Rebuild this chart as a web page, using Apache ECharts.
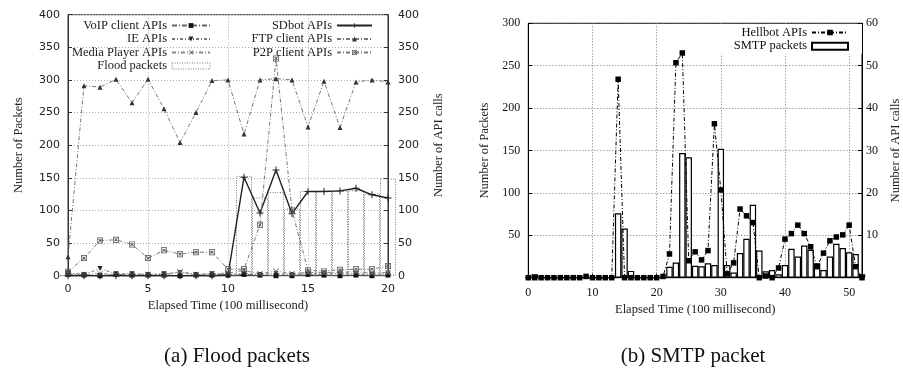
<!DOCTYPE html>
<html>
<head>
<meta charset="utf-8">
<script src="https://cdn.jsdelivr.net/npm/echarts@6/dist/echarts.min.js"></script>
<style>
html, body { margin: 0; padding: 0; background: #fff; }
#main { width: 903px; height: 374px; }
</style>
</head>
<body>
<div id="main"></div>
<script>
// (a) Flood packets : elapsed time 0..20 (100 ms)
const timeA = [0, 1, 2, 3, 4, 5, 6, 7, 8, 9, 10, 11, 12, 13, 14, 15, 16, 17, 18, 19, 20]
const voipApis = [2, 1, 0, 2, 1, 1, 1, 0, 1, 1, 1, 2, 1, 0, 0, 2, 1, 0, 1, 0, 1]
const ieApis = [4, 2, 11, 3, 3, 2, 3, 5, 2, 3, 2, 3, 2, 3, 2, 3, 3, 3, 3, 2, 3]
const mediaApis = [3, 2, 3, 2, 2, 2, 2, 6, 2, 3, 4, 8, 3, 7, 3, 5, 5, 5, 6, 4, 5]
const floodPackets = [0, 0, 0, 0, 0, 0, 0, 0, 0, 0, 0, 153, 120, 128, 103, 130, 130, 130, 131, 126, 149]
const sdbotApis = [0, 0, 0, 0, 0, 0, 0, 0, 0, 0, 1, 151, 96, 162, 95, 129, 129, 130, 134, 124, 119]
const ftpApis = [29, 291, 289, 301, 265, 301, 256, 204, 250, 299, 300, 217, 300, 302, 300, 228, 298, 227, 297, 300, 297]
const p2pApis = [6, 27, 54, 55, 48, 27, 39, 33, 36, 36, 10, 10, 78, 333, 100, 8, 7, 9, 10, 10, 15]

// (b) SMTP packet : elapsed time 0..52 (100 ms)
const timeB = [0, 1, 2, 3, 4, 5, 6, 7, 8, 9, 10, 11, 12, 13, 14, 15, 16, 17, 18, 19,
    20, 21, 22, 23, 24, 25, 26, 27, 28, 29, 30, 31, 32, 33, 34, 35, 36, 37, 38, 39,
    40, 41, 42, 43, 44, 45, 46, 47, 48, 49, 50, 51, 52]
const hellbotApis = [0, 0, 0, 0, 0, 0, 0, 0, 0, 0.3, 0, 0, 0, 0, 46.8, 0, 0, 0, 0, 0,
    0, 0.3, 5.6, 50.7, 53, 4, 6.1, 4.2, 6.4, 36.3, 20.7, 0.9, 3.5, 16.2, 14.6, 13, 0, 0.4, 0, 2.3,
    9.1, 10.4, 12.4, 10.4, 7.3, 2.6, 5.8, 8.7, 9.6, 10.1, 12.4, 2.6, 0]
const smtpPackets = [0, 4, 0, 0, 0, 0, 0, 0, 0, 0, 0, 0, 0, 0, 76, 58, 8, 0, 0, 0,
    0, 1, 13, 18, 147, 142, 14, 13.5, 17, 15, 152, 15, 6, 29, 46, 86, 32, 7.5, 9, 4,
    15, 34, 25, 38, 33, 17, 9, 25, 40, 35, 30, 28, 4]

function zip(xs, ys) {
    return xs.map(function (x, i) { return [x, ys[i]] })
}

// marker shapes
const crossPath = 'path://M0,1L1,0L5,4L9,0L10,1L6,5L10,9L9,10L5,6L1,10L0,9L4,5Z'
const plusPath = 'path://M4.3,0H5.7V4.3H10V5.7H5.7V10H4.3V5.7H0V4.3H4.3Z'
const boxCrossPath = 'path://M0,0H10V10H0Z M1.2,1.2V8.8H8.8V1.2Z M2,3L3,2L5,4L7,2L8,3L6,5L8,7L7,8L5,6L3,8L2,7L4,5Z'

const sansTick = { fontFamily: 'DejaVu Sans', fontSize: 11, color: '#222' }
const serifTick = { fontFamily: 'Liberation Serif', fontSize: 12, color: '#111' }
const serifName = { fontFamily: 'Liberation Serif', fontSize: 12.5, color: '#222' }
const dotGrid = { lineStyle: { color: '#aaa', type: [1, 2], width: 1 } }
const floodStyle = { color: 'transparent', borderColor: '#777', borderWidth: 1, borderType: [1, 1.5] }

let myChart = echarts.init(document.getElementById('main'), null, { renderer: 'canvas' })
myChart.setOption({
    backgroundColor: '#fff',
    animation: false,
    grid: [
        { left: 68, top: 14.7, width: 320, height: 261, show: true, borderColor: '#333', borderWidth: 1, backgroundColor: 'transparent' },
        { left: 528.3, top: 23.3, width: 335, height: 254.4, show: true, borderColor: '#000', borderWidth: 1, backgroundColor: 'transparent' }
    ],
    xAxis: [
        {
            gridIndex: 0, type: 'value', min: 0, max: 20, interval: 5,
            name: 'Elapsed Time (100 millisecond)', nameLocation: 'middle', nameGap: 24, nameTextStyle: serifName,
            axisLine: { show: true, lineStyle: { color: '#333' } },
            axisTick: { inside: true, length: 4, lineStyle: { color: '#333' } },
            axisLabel: Object.assign({ margin: 8 }, sansTick),
            splitLine: dotGrid
        },
        {
            gridIndex: 1, type: 'value', min: 0, max: 52, interval: 10,
            name: 'Elapsed Time (100 millisecond)', nameLocation: 'middle', nameGap: 25, nameTextStyle: serifName,
            axisLine: { show: true, lineStyle: { color: '#000' } },
            axisTick: { inside: true, length: 4, lineStyle: { color: '#000' } },
            axisLabel: Object.assign({ margin: 9, showMaxLabel: false }, serifTick),
            splitLine: { lineStyle: { color: '#777', type: [1, 2], width: 1 } }
        }
    ],
    yAxis: [
        {
            gridIndex: 0, type: 'value', min: 0, max: 400, interval: 50, position: 'left',
            name: 'Number of Packets', nameLocation: 'middle', nameGap: 43, nameRotate: 90, nameTextStyle: serifName,
            axisLine: { show: true, lineStyle: { color: '#333' } },
            axisTick: { show: true, inside: true, length: 4, lineStyle: { color: '#333' } },
            axisLabel: Object.assign({ margin: 8 }, sansTick),
            splitLine: dotGrid
        },
        {
            gridIndex: 0, type: 'value', min: 0, max: 400, interval: 50, position: 'right',
            name: 'Number of API calls', nameLocation: 'middle', nameGap: 44, nameRotate: 90, nameTextStyle: serifName,
            axisLine: { show: true, lineStyle: { color: '#333' } },
            axisTick: { show: true, inside: true, length: 4, lineStyle: { color: '#333' } },
            axisLabel: Object.assign({ margin: 10 }, sansTick),
            splitLine: { show: false }
        },
        {
            gridIndex: 1, type: 'value', min: 0, max: 300, interval: 50, position: 'left',
            name: 'Number of Packets', nameLocation: 'middle', nameGap: 37, nameRotate: 90, nameTextStyle: serifName,
            axisLine: { show: true, lineStyle: { color: '#000' } },
            axisTick: { show: true, inside: true, length: 4, lineStyle: { color: '#000' } },
            axisLabel: Object.assign({ margin: 8, showMinLabel: false }, serifTick),
            splitLine: { lineStyle: { color: '#777', type: [1, 2], width: 1 } }
        },
        {
            gridIndex: 1, type: 'value', min: 0, max: 60, interval: 10, position: 'right',
            name: 'Number of API calls', nameLocation: 'middle', nameGap: 27, nameRotate: 90, nameTextStyle: serifName,
            axisLine: { show: true, lineStyle: { color: '#000' } },
            axisTick: { show: true, inside: true, length: 4, lineStyle: { color: '#000' } },
            axisLabel: Object.assign({ margin: 4, showMinLabel: false }, serifTick),
            splitLine: { show: false }
        }
    ],
    legend: [
        {
            data: ['VoIP client APIs', 'IE APIs', 'Media Player APIs', { name: 'Flood packets', icon: 'rect', itemStyle: floodStyle }],
            orient: 'vertical', align: 'right', right: 692, top: 19, padding: 0,
            itemWidth: 38, itemHeight: 6, itemGap: 0.5, selectedMode: false,
            textStyle: { fontFamily: 'Liberation Serif', fontSize: 12.5, color: '#222', lineHeight: 12 }
        },
        {
            data: ['SDbot APIs', 'FTP client APIs', 'P2P client APIs'],
            orient: 'vertical', align: 'right', right: 530, top: 19, padding: 0,
            itemWidth: 35, itemHeight: 6, itemGap: 0.5, selectedMode: false,
            textStyle: { fontFamily: 'Liberation Serif', fontSize: 12.5, color: '#222', lineHeight: 12 }
        },
        {
            data: ['Hellbot APIs', { name: 'SMTP packets', icon: 'rect' }],
            orient: 'vertical', align: 'right', right: 41, top: 24, padding: [2, 13, 1, 18],
            backgroundColor: '#fff',
            itemWidth: 36, itemHeight: 7, itemGap: 0.7, selectedMode: false,
            textStyle: { fontFamily: 'Liberation Serif', fontSize: 12.5, color: '#111', lineHeight: 12 }
        }
    ],
    series: [
        // (a) 柱: flood packets
        {
            name: 'Flood packets', type: 'bar', xAxisIndex: 0, yAxisIndex: 0,
            data: zip(timeA, floodPackets), barWidth: 16,
            itemStyle: floodStyle
        },
        {
            name: 'VoIP client APIs', type: 'line', xAxisIndex: 0, yAxisIndex: 1,
            data: zip(timeA, voipApis), symbol: 'rect', symbolSize: 5,
            itemStyle: { color: '#111' }, lineStyle: { color: '#666', width: 1, type: [5, 2, 1, 2] }
        },
        {
            name: 'IE APIs', type: 'line', xAxisIndex: 0, yAxisIndex: 1,
            data: zip(timeA, ieApis), symbol: 'triangle', symbolRotate: 180, symbolSize: 5,
            itemStyle: { color: '#222' }, lineStyle: { color: '#777', width: 1, type: [3, 2, 1, 2] }
        },
        {
            name: 'Media Player APIs', type: 'line', xAxisIndex: 0, yAxisIndex: 1,
            data: zip(timeA, mediaApis), symbol: crossPath, symbolSize: 6,
            itemStyle: { color: '#777' }, lineStyle: { color: '#888', width: 1, type: [4, 2, 1, 2] }
        },
        {
            name: 'SDbot APIs', type: 'line', xAxisIndex: 0, yAxisIndex: 1,
            data: zip(timeA, sdbotApis), symbol: plusPath, symbolSize: 7,
            itemStyle: { color: '#222' }, lineStyle: { color: '#222', width: 1.4, type: 'solid' }
        },
        {
            name: 'FTP client APIs', type: 'line', xAxisIndex: 0, yAxisIndex: 1,
            data: zip(timeA, ftpApis), symbol: 'triangle', symbolSize: 5,
            itemStyle: { color: '#333' }, lineStyle: { color: '#777', width: 1, type: [4, 2, 1, 2] }
        },
        {
            name: 'P2P client APIs', type: 'line', xAxisIndex: 0, yAxisIndex: 1,
            data: zip(timeA, p2pApis), symbol: boxCrossPath, symbolSize: 6,
            itemStyle: { color: '#555' }, lineStyle: { color: '#777', width: 1, type: [4, 2, 1, 2] }
        },
        // (b) SMTP packets
        {
            name: 'SMTP packets', type: 'bar', xAxisIndex: 1, yAxisIndex: 2,
            data: zip(timeB, smtpPackets), barWidth: 6.44,
            itemStyle: { color: '#fff', borderColor: '#000', borderWidth: 1.2 }
        },
        {
            name: 'Hellbot APIs', type: 'line', xAxisIndex: 1, yAxisIndex: 3,
            data: zip(timeB, hellbotApis), symbol: 'rect', symbolSize: 5.5,
            itemStyle: { color: '#000' }, lineStyle: { color: '#000', width: 1, type: [4, 2, 1, 2] }
        }
    ],
    graphic: [
        { type: 'text', x: 237, y: 356, style: { text: '(a) Flood packets', align: 'center', verticalAlign: 'middle', font: '21px "Liberation Serif"', fill: '#111' } },
        { type: 'text', x: 693, y: 356, style: { text: '(b) SMTP packet', align: 'center', verticalAlign: 'middle', font: '21px "Liberation Serif"', fill: '#111' } }
    ]
})
</script>
</body>
</html>
